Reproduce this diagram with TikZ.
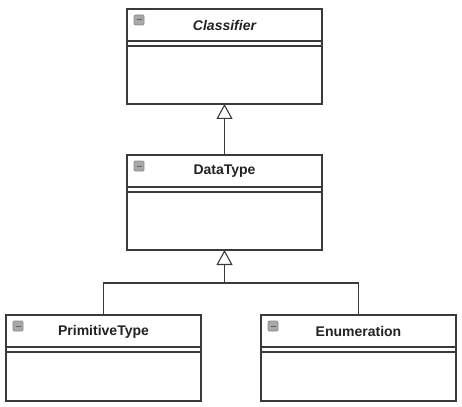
\documentclass[tikz,border=0pt]{standalone}
\usepackage{fontspec}
\setmainfont{Liberation Sans}
\usetikzlibrary{arrows.meta}
\definecolor{lineC}{HTML}{3A3A3A}
\definecolor{iconF}{HTML}{A8A8A8}
\definecolor{iconD}{HTML}{8A8A8A}
\definecolor{textC}{HTML}{222222}
\tikzset{
  classbox/.style={draw=lineC, line width=1.1pt, fill=white, minimum width=195pt, inner sep=0pt, outer sep=0pt},
  titletext/.style={text=textC, font=\fontsize{14}{16}\selectfont\bfseries, inner sep=0pt},
  sepline/.style={draw=lineC, line width=1.1pt},
  conn/.style={draw=lineC, line width=1.1pt},
  gen/.style={conn, -{Triangle[open, length=15pt, width=16pt, line width=1.1pt]}},
  iconbox/.style={fill=iconF, draw=iconD, line width=0.6pt, rounded corners=1pt},
  icondash/.style={draw=iconD!70!black, line width=1pt}
}
\newcommand{\classicon}[1]{%
  \path[iconbox] ([shift={(7,6)}]#1.north west) rectangle ([shift={(17,16)}]#1.north west);
  \path[icondash] ([shift={(9.5,11)}]#1.north west) -- ([shift={(14.5,11)}]#1.north west);
}
\newcommand{\classsep}[3]{%
  \path[sepline] ([shift={(0,#2)}]#1.north west) -- ([shift={(0,#2)}]#1.north east);
  \path[sepline] ([shift={(0,#3)}]#1.north west) -- ([shift={(0,#3)}]#1.north east);
}
\begin{document}
\begin{tikzpicture}[x=1pt,y=-1pt]
\useasboundingbox[fill=white] (0,0) rectangle (462,406);

\node[classbox, minimum height=95pt] (cls) at (224.5,56.5) {};
\node[classbox, minimum height=95pt] (dt) at (224.5,202.5) {};
\node[classbox, minimum height=86pt] (pt) at (103.5,358) {};
\node[classbox, minimum height=86pt] (en) at (358.5,358) {};

\classsep{cls}{32}{37}
\classsep{dt}{32}{37}
\classsep{pt}{32}{37}
\classsep{en}{32}{37}

\classicon{cls}
\classicon{dt}
\classicon{pt}
\classicon{en}

\node[titletext, font=\fontsize{14}{16}\selectfont\bfseries\itshape] (clsT) at ([shift={(0,16.5)}]cls.north) {Classifier};
\node[titletext] (dtT) at ([shift={(0,16.5)}]dt.north) {DataType};
\node[titletext] (ptT) at ([shift={(0,16.5)}]pt.north) {PrimitiveType};
\node[titletext] (enT) at ([shift={(0,16.5)}]en.north) {Enumeration};

\coordinate (j) at (224.5,283);
\draw[gen] (dt.north) -- (cls.south);
\draw[conn] (pt.north) |- (j);
\draw[conn] (en.north) |- (j);
\draw[gen] (j) -- (dt.south);
\end{tikzpicture}
\end{document}
